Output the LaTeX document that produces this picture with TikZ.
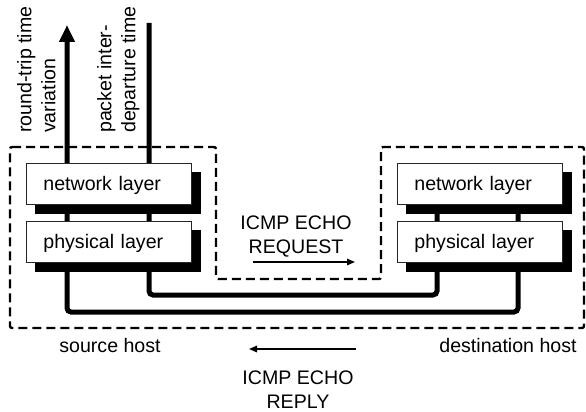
\documentclass[tikz,border=0pt]{standalone}
\usepackage{fontspec}
\setmainfont{Liberation Sans}
\usetikzlibrary{arrows.meta}
\pgfdeclarelayer{background}
\pgfdeclarelayer{shade}
\pgfsetlayers{background,shade,main}

\begin{document}
\begin{tikzpicture}[x=1pt,y=-1pt,
  font=\fontsize{19.6}{24}\selectfont,
  layerbox/.style={draw=black!85, line width=0.8pt, fill=white,
    minimum height=41pt, text width=131pt, inner xsep=17pt, inner ysep=0pt,
    text height=16pt, text depth=2pt, align=left, anchor=north west},
  wire/.style={line width=5pt, rounded corners=4pt},
  hostline/.style={line width=2.4pt, dash pattern=on 9pt off 5pt, rounded corners=2pt},
  flow/.style={line width=1.5pt, -{Triangle[length=8pt,width=6.5pt]}},
  caption/.style={inner sep=0pt, align=center},
  sidelabel/.style={rotate=90, anchor=north west, align=left, inner sep=0pt}
]
\useasboundingbox (0,0) rectangle (586,412);

% protocol stacks of the two hosts
\node[layerbox] (lnet)  at (26,163) {network layer};
\node[layerbox] (lphys) at (26,221) {physical layer};
\node[layerbox] (rnet)  at (397,163) {network layer};
\node[layerbox] (rphys) at (397,221) {physical layer};

% drop shadows of the layer boxes
\begin{pgfonlayer}{shade}
  \foreach \b in {lnet,lphys,rnet,rphys}
    \fill ([shift={(9,9)}]\b.north west) rectangle ([shift={(9,9)}]\b.south east);
\end{pgfonlayer}

% ends and bends of the two loops
\coordinate (tipA) at (67,25);
\coordinate (endB) at (149,23);
\coordinate (outer) at (0,312);
\coordinate (inner) at (0,295);
\coordinate (xA) at (437,0);
\coordinate (xB) at (518,0);

\begin{pgfonlayer}{background}
  % host outlines
  \draw[hostline] (10,147) -- (216,147) -- (216,279) -- (381,279) -- (381,147)
    -- (584,147) -- (584,328) -- (10,328) -- cycle;
  % physical loops through both hosts
  \draw[wire, {Triangle[length=17pt,width=15pt]}-]
    (tipA) -- (tipA |- outer) -- (xB |- outer) -- (xB |- rnet.south);
  \draw[wire] (endB) -- (endB |- inner) -- (xA |- inner) -- (xA |- rnet.south);
\end{pgfonlayer}

% measured quantities
\node[sidelabel] (rtt) at (17,133) {round-trip time\\variation};
\node[sidelabel] (pit) at (97,133) {packet inter-\\departure time};

% ICMP request and reply
\node[caption, anchor=north] (req) at (296,215.5) {ICMP ECHO\\REQUEST};
\coordinate (reqS) at (253,262);
\coordinate (reqE) at (355,262);
\draw[flow] (reqS) -- (reqE);

\coordinate (repS) at (356,349);
\coordinate (repE) at (249,349);
\draw[flow] (repS) -- (repE);
\node[caption, anchor=north] (rep) at (298,370.5) {ICMP ECHO\\REPLY};

% host names
\node[inner sep=0pt, anchor=base] (src) at (110,352) {source host};
\node[inner sep=0pt, anchor=base] (dst) at (508,352) {destination host};
\end{tikzpicture}
\end{document}
